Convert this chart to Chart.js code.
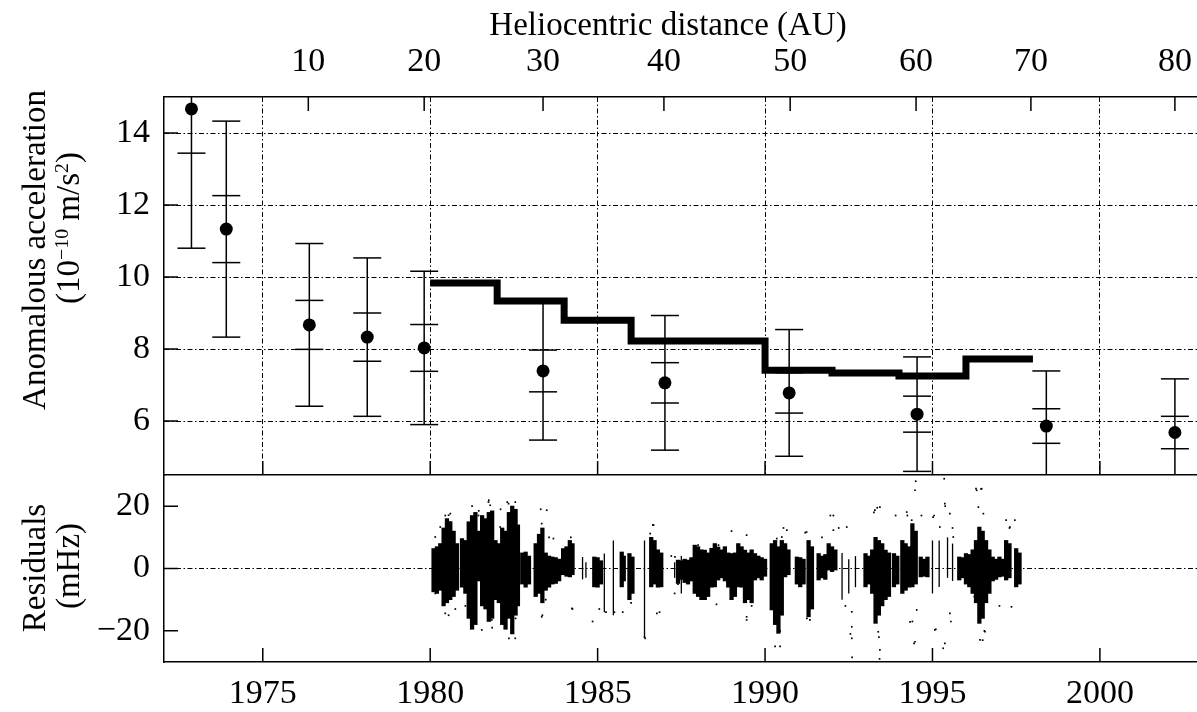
<!DOCTYPE html>
<html>
<head>
<meta charset="utf-8">
<script src="https://cdn.jsdelivr.net/npm/chart.js@4.4.1/dist/chart.umd.min.js"></script>
<style>
  html, body { margin: 0; padding: 0; background: #fff; }
  #wrap { position: relative; width: 1197px; height: 712px; overflow: hidden; font-family: "Liberation Serif", serif; color: #000; }
  #topChart { position: absolute; left: 0; top: 0; }
  #botChart { position: absolute; left: 0; top: 475px; }
  .lbl { position: absolute; font-size: 33px; white-space: nowrap; transform: translate(-50%, -50%); line-height: 1; }
  .rot { transform: translate(-50%, -50%) rotate(-90deg); }
  sup { font-size: 60%; vertical-align: 0.55em; line-height: 0; }
</style>
</head>
<body>
<div id="wrap">
  <canvas id="topChart" width="1197" height="476"></canvas>
  <canvas id="botChart" width="1197" height="237"></canvas>
  <div class="lbl" style="left:668px; top:24px;">Heliocentric distance (AU)</div>
  <div class="lbl rot" style="left:34px; top:250px;">Anomalous acceleration</div>
  <div class="lbl rot" style="left:68px; top:228px;">(10<sup>−10</sup> m/s<sup>2</sup>)</div>
  <div class="lbl rot" style="left:34px; top:568px;">Residuals</div>
  <div class="lbl rot" style="left:68px; top:566px;">(mHz)</div>
</div>
<script>
// axis ranges / ticks
const yearMin = 1972.05, yearMax = 2002.9;
const yearTicks = [1975, 1980, 1985, 1990, 1995, 2000];
const auTicks = [10, 20, 30, 40, 50, 60, 70, 80];
const auTickYears = [1976.36, 1979.82, 1983.37, 1986.98, 1990.75, 1994.51, 1997.94, 2002.24];
const accelTicks = [6, 8, 10, 12, 14];
const residTicks = [-20, 0, 20];

// observed anomalous acceleration with two error bar sizes
const obsYears = [1972.87, 1973.91, 1976.39, 1978.12, 1979.82, 1983.37, 1987.01, 1990.72, 1994.54, 1998.40, 2002.24];
const obsAccel = [14.67, 11.33, 8.67, 8.33, 8.03, 7.39, 7.06, 6.78, 6.19, 5.86, 5.68];
const errInner = [1.23, 0.93, 0.68, 0.67, 0.65, 0.58, 0.56, 0.56, 0.50, 0.48, 0.45];
const errOuter = [3.87, 3.00, 2.26, 2.20, 2.13, 1.92, 1.87, 1.76, 1.59, 1.53, 1.49];

// stepped model curve
const modelYears = [1980, 1982, 1984, 1986, 1990, 1992, 1994, 1996, 1998];
const modelAccel = [9.83, 9.33, 8.80, 8.22, 7.41, 7.33, 7.25, 7.72, 7.72];

// residuals: dense columns (low, high)
const residYears = [1980.1,1980.2,1980.3,1980.4,1980.5,1980.6,1980.7,1980.8,1980.95,1981.05,1981.15,1981.25,1981.35,1981.45,1981.55,1981.65,1981.75,1981.85,1981.95,1982.05,1982.15,1982.25,1982.35,1982.45,1982.55,1982.62,1982.75,1982.85,1982.95,1983.15,1983.25,1983.35,1983.45,1983.55,1983.65,1983.75,1983.85,1983.97,1984.07,1984.17,1984.25,1984.9,1985.0,1985.1,1985.72,1985.78,1985.95,1986.04,1986.6,1986.7,1986.8,1986.9,1987.4,1987.5,1987.6,1987.7,1987.8,1987.9,1988.0,1988.1,1988.2,1988.3,1988.4,1988.5,1988.6,1988.7,1988.8,1988.9,1989.0,1989.1,1989.2,1989.3,1989.4,1989.5,1989.6,1989.7,1989.8,1989.9,1990.0,1990.2,1990.3,1990.4,1990.5,1990.6,1990.7,1990.95,1991.05,1991.15,1991.3,1991.4,1991.6,1991.7,1991.8,1991.9,1992.0,1992.1,1993.0,1993.1,1993.2,1993.3,1993.4,1993.5,1993.6,1993.7,1993.85,1993.95,1994.1,1994.2,1994.3,1994.4,1994.5,1994.65,1994.75,1994.85,1995.8,1995.9,1996.0,1996.1,1996.2,1996.3,1996.4,1996.5,1996.6,1996.7,1996.8,1996.9,1997.0,1997.1,1997.2,1997.3,1997.5,1997.6];
const residLow = [-7.5,-8,-7,-12,-11,-10,-9,-7,-6,-8,-16,-19.5,-18,-4,-12,-13,-17,-16,-10,-11,-18,-19.5,-16,-21,-15,-12,-5,-6,-5,-9,-8,-11,-7,-6,-5,-4.8,-4,-2,-2.5,-2.7,-2,-5.9,-6,-5,-5.9,-4,-10,-8,-5.9,-5,-6,-5.9,-4.8,-3.5,-4.5,-5,-4,-8,-9,-10,-10,-9,-6,-5.9,-3.7,-3,-4,-6,-10,-9,-5.9,-6,-11,-10,-11,-3.7,-3,-3.7,-2.5,-13.3,-18,-20.8,-15,-2.7,-2,-5,-5.9,-5,-15.5,-13,-3.7,-3,-3.5,-0.5,-1,-0.5,-5.9,-5,-8,-17.6,-15,-12,-10,-9,-5.9,-5,-8,-7,-6,-5.9,-5,-2.7,-2.5,-2.7,-3.7,-3,-5,-5.9,-8,-11,-17.6,-16,-11,-8,-4,-3.5,-2.7,-2.5,-3.7,-3,-5.9,-5];
const residHigh = [6.4,7,8,13,16,15,12,8,9.6,9,15,17,18,12,17,16,18,18.5,9,8,13,12,18,20,19,14,5,5.3,4,8,11,13,5,4,3.7,3.5,3,6.4,7,9,8,3.7,3.5,2.5,5.3,4,4.8,3.7,10,9,6,5,2.7,2.5,3,2.7,3.5,7.5,7,6,5.9,5,6.5,8,6.9,6,7,5,4.8,5,8,7,5.9,5,6,4.8,4,3.5,3,8,9,7,9,8,6,3.7,3.5,3,9,7,4.8,4,4.5,8,7,6,4.8,4,6,10,9,8,5.9,5,4.8,4,9,8,7,14.4,12,3.7,3,3.7,3.7,3.5,4.8,4.5,6,9,13.3,12,9,6,3.7,3,3.7,3,9,8,6.4,5];

// residuals: sparse thin columns
const sparseYears = [1984.55, 1984.65, 1985.2, 1985.47, 1986.4, 1987.3, 1987.5, 1992.3, 1992.5, 1992.7, 1995.0, 1995.2, 1995.45, 1995.6];
const sparseLow = [-3.5, -3, -14, -15, -22, -3, -8, -10, -8, -6, -8, -5.9, -3, -4];
const sparseHigh = [3.7, 2, 4.8, 9, 9, 2, 4, 5, 3, 4, 9, 9, 10, 8];

// residuals: isolated outlier dots
const outYears = [1980.45,1980.6,1980.55,1980.75,1981.05,1981.25,1981.45,1981.75,1981.85,1982.1,1982.3,1982.35,1982.55,1983.3,1983.35,1983.55,1983.45,1984.2,1984.25,1984.85,1985.05,1985.25,1985.5,1985.75,1986.0,1986.4,1986.65,1986.85,1987.4,1987.2,1987.3,1988.0,1988.55,1989.0,1989.45,1989.6,1990.3,1990.45,1990.55,1991.2,1991.25,1991.7,1991.95,1992.2,1992.4,1992.55,1992.6,1993.25,1993.4,1993.42,1993.35,1993.9,1994.25,1994.4,1994.5,1994.45,1994.67,1995.05,1995.35,1995.38,1995.32,1995.6,1995.55,1995.1,1996.25,1996.3,1996.45,1996.5,1996.55,1997.2,1997.3,1997.0,
    1980.55,1980.6,1980.3,1980.15,1980.15,1980.45,1981.29,1981.44,1981.54,1981.74,1981.79,1981.84,1982.09,1982.34,1982.54,1982.54,1982.44,1983.48,1983.33,1983.68,1984.23,1983.33,1986.67,1986.57,1986.77,1986.42,
    1987.31,1987.91,1988.61,1989.45,1989.45,1990.35,1990.5,1990.65,1990.4,1990.45,1991.24,1991.34,1992.04,1992.04,1992.44,1992.59,1992.59,1992.59,1993.28,1993.43,1993.38,1993.43,1994.23,1994.38,1994.48,1994.53,1994.48,1994.33,
    1995.02,1995.22,1995.37,1995.52,1995.62,1995.07,1995.37,1995.52,1996.32,1996.47,1996.37,1996.52,1996.42,1996.57,1997.31,1997.46,1997.36];
const outValues = [17,17.6,-15,-13,-12,20,18.5,21.9,-19,19,21.3,-22.4,-16,19,-15,10,-10,10,-13,-17,-13,-14,-14,-14,-11,-22,14,-14,-5,4,-8,7.5,-11.5,12,-16.5,-12,-25,-20,13,11.5,-16,10,17,13,-12,-21,-28.5,18,-22,-29,19.5,17,17,-17,28,-24,17,17,28.8,20,-25.6,13,-17,-19.5,-9,25.6,25.5,-23,-20,15.5,13,-12,
    17.1,14.9,13.3,10.1,-8,-14.4,16.5,17,-19.7,21.3,20.3,-16.5,13.3,20.8,21.3,-22.4,-19.7,18.7,14.4,9.6,-12.8,-15.5,13.9,11.2,-14.4,-22.4,
    3.7,6.9,7.5,10.7,-15.5,9.6,10.1,12.3,-19.7,-25,11.7,-16.5,17,12.3,13.3,-13.9,-18.7,-22.4,18.7,19.7,-20.3,-26.1,18.1,15.5,25.1,-13.3,-23.5,-17.1,
    16.5,13.3,20.8,17.6,10.1,-19.7,-24,-14.4,25.1,25.6,19.7,17.6,-22.9,-20.3,13.3,15.5,-12.3];

const serif = 'Liberation Serif';
const dash = [5, 2.5, 1.5, 2.5];

// gnuplot-like ticks pointing into the plot
const innerTicks = {
    id: 'innerTicks',
    afterDatasetsDraw(chart, args, opts)
    {
        const {ctx, chartArea: a} = chart;
        ctx.save();
        ctx.strokeStyle = '#000';
        ctx.lineWidth = 1.5;
        ctx.beginPath();
        opts.axes.forEach(id => {
            const s = chart.scales[id];
            s.ticks.forEach(t => {
                const p = s.getPixelForValue(t.value);
                if (s.position === 'left') {
                    ctx.moveTo(a.left, p); ctx.lineTo(a.left + opts.len, p);
                } else if (s.position === 'top') {
                    ctx.moveTo(p, a.top); ctx.lineTo(p, a.top + opts.len);
                } else {
                    ctx.moveTo(p, a.bottom); ctx.lineTo(p, a.bottom - opts.len);
                }
            });
        });
        ctx.stroke();
        ctx.restore();
    }
};

function fixTicks(values)
{
    return scale => { scale.ticks = values.map(v => ({value: v})); };
}

// fixed axis size, and no extra room kept for half labels
function fixSize(size, key)
{
    return scale => {
        scale[key] = size;
        scale.paddingTop = scale.paddingBottom = scale.paddingLeft = scale.paddingRight = 0;
    };
}

const tickFont = {family: serif, size: 34};

// ---- top panel ----
const errLines = [], capInner = [], capOuter = [];
obsYears.forEach((x, i) => {
    errLines.push({x: x, y: obsAccel[i] - errOuter[i]}, {x: x, y: obsAccel[i] + errOuter[i]}, {x: x, y: null});
    capInner.push({x: x, y: obsAccel[i] - errInner[i]}, {x: x, y: obsAccel[i] + errInner[i]});
    capOuter.push({x: x, y: obsAccel[i] - errOuter[i]}, {x: x, y: obsAccel[i] + errOuter[i]});
});

new Chart(document.getElementById('topChart'), {
    type: 'scatter',
    data: {
        datasets: [
            {
                type: 'line',
                data: modelYears.map((x, i) => ({x: x, y: modelAccel[i]})),
                stepped: 'before',
                borderColor: '#000',
                borderWidth: 7,
                borderCapStyle: 'butt',
                borderJoinStyle: 'miter',
                pointRadius: 0,
                fill: false,
                clip: 0
            },
            {
                data: errLines,
                showLine: true,
                spanGaps: false,
                borderColor: '#000',
                borderWidth: 1.5,
                pointRadius: 0,
                clip: 0
            },
            {
                data: capInner.concat(capOuter),
                pointStyle: 'line',
                pointRadius: 14,
                borderColor: '#000',
                borderWidth: 1.5,
                clip: 0
            },
            {
                data: obsYears.map((x, i) => ({x: x, y: obsAccel[i]})),
                pointRadius: 6.5,
                backgroundColor: '#000',
                borderWidth: 0,
                clip: 0
            }
        ]
    },
    options: {
        responsive: false,
        animation: false,
        layout: {padding: 0, autoPadding: false},
        plugins: {
            legend: {display: false},
            tooltip: {enabled: false},
            innerTicks: {axes: ['y', 'x', 'x2'], len: 14}
        },
        scales: {
            x: {
                type: 'linear', position: 'bottom', min: yearMin, max: yearMax,
                afterBuildTicks: fixTicks(yearTicks),
                afterFit: fixSize(1, 'height'),
                ticks: {display: false},
                grid: {color: '#000', lineWidth: 1, drawTicks: false},
                border: {display: true, color: '#000', width: 1.5, dash: dash}
            },
            x2: {
                type: 'linear', position: 'top', min: yearMin, max: yearMax,
                afterBuildTicks: fixTicks(auTickYears),
                afterFit: fixSize(97, 'height'),
                ticks: {
                    autoSkip: false, maxRotation: 0, padding: 15, color: '#000', font: tickFont,
                    callback: (v, i) => String(auTicks[i])
                },
                grid: {drawOnChartArea: false, drawTicks: false},
                border: {display: true, color: '#000', width: 1.5}
            },
            y: {
                type: 'linear', position: 'left', min: 4.5, max: 15,
                afterBuildTicks: fixTicks(accelTicks),
                afterFit: fixSize(164, 'width'),
                ticks: {padding: 14, color: '#000', font: tickFont, callback: v => String(v)},
                grid: {color: '#000', lineWidth: 1, drawTicks: false},
                border: {display: true, color: '#000', width: 1.5, dash: dash}
            }
        }
    },
    plugins: [innerTicks]
});

// ---- bottom panel ----
new Chart(document.getElementById('botChart'), {
    type: 'bar',
    data: {
        datasets: [
            {
                data: residYears.map((x, i) => ({x: x, y: [residLow[i], residHigh[i]]})),
                backgroundColor: '#000',
                borderWidth: 0,
                barThickness: 3.6,
                barPercentage: 1,
                categoryPercentage: 1,
                clip: 0
            },
            {
                data: sparseYears.map((x, i) => ({x: x, y: [sparseLow[i], sparseHigh[i]]})),
                backgroundColor: '#000',
                borderWidth: 0,
                grouped: false,
                maxBarThickness: 1.3,
                clip: 0
            },
            {
                type: 'scatter',
                data: outYears.map((x, i) => ({x: x, y: outValues[i]})),
                pointStyle: 'rect',
                pointRadius: 1.2,
                backgroundColor: '#000',
                borderWidth: 0,
                clip: 0
            }
        ]
    },
    options: {
        responsive: false,
        animation: false,
        layout: {padding: 0, autoPadding: false},
        plugins: {
            legend: {display: false},
            tooltip: {enabled: false},
            innerTicks: {axes: ['y', 'x'], len: 14}
        },
        scales: {
            x: {
                type: 'linear', position: 'bottom', min: yearMin, max: yearMax, offset: false,
                afterBuildTicks: fixTicks(yearTicks),
                afterFit: fixSize(50, 'height'),
                ticks: {padding: 12, color: '#000', maxRotation: 0, autoSkip: false, font: tickFont, callback: v => String(v)},
                grid: {display: false, drawTicks: false, offset: false},
                border: {display: true, color: '#000', width: 1.5}
            },
            y: {
                type: 'linear', position: 'left', min: -30, max: 30, beginAtZero: false, stacked: false,
                afterBuildTicks: fixTicks(residTicks),
                afterFit: fixSize(164, 'width'),
                ticks: {
                    padding: 14, color: '#000', font: tickFont,
                    callback: v => String(v).replace('-', '\u2212')
                },
                grid: {
                    color: c => (c.tick && c.tick.value === 0) ? '#000' : 'rgba(0,0,0,0)',
                    lineWidth: 1, drawTicks: false
                },
                border: {display: true, color: '#000', width: 1.5, dash: dash}
            }
        }
    },
    plugins: [innerTicks]
});
</script>
</body>
</html>
